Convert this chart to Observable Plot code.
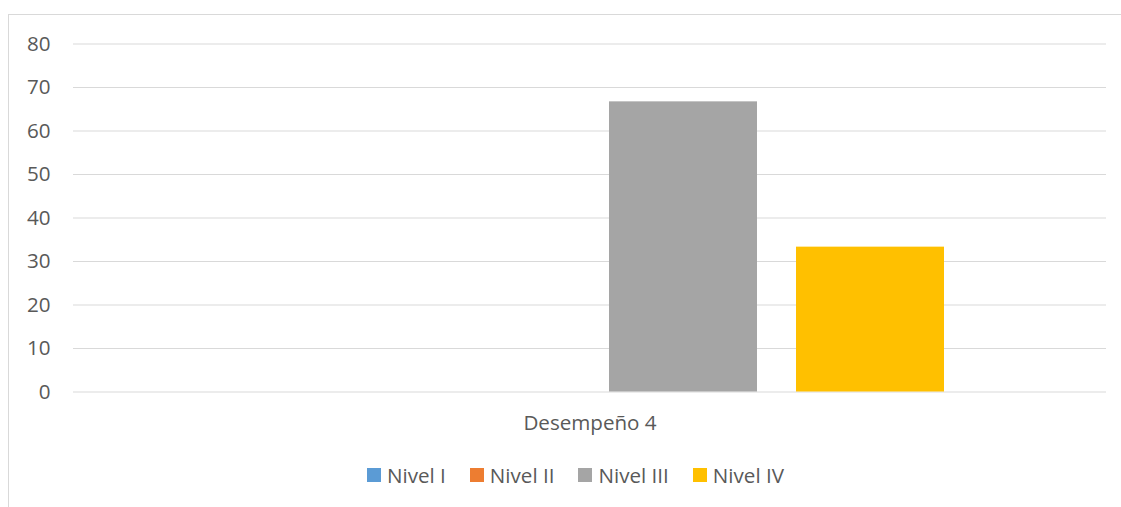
<!DOCTYPE html>
<html><head><meta charset="utf-8">
<script src="https://cdn.jsdelivr.net/npm/d3@7"></script>
<script src="https://cdn.jsdelivr.net/npm/@observablehq/plot@0.6"></script>
<style>
html,body{margin:0;padding:0;background:#fff;overflow:hidden;}
#wrap{position:relative;width:1121px;height:507px;overflow:hidden;font-family:"Open Sans",sans-serif;}
#frame{position:absolute;left:8px;top:14px;width:1300px;height:700px;border:1px solid #d9d9d9;box-sizing:border-box;}
#chart{position:absolute;left:0;top:0;}
#legend{position:absolute;left:367px;top:458px;}
.lg-swatch{margin-right:24px !important;}
.lg-swatch > svg{margin-right:6px !important;}
</style></head><body>
<div id="wrap"><div id="frame"></div><div id="chart"></div><div id="legend"></div></div>
<script>
const categories = ["Desempeño 4"];
const series = ["Nivel I", "Nivel II", "Nivel III", "Nivel IV"];
const values = [0, 0, 66.7, 33.3];
const colors = ["#5B9BD5", "#ED7D31", "#A5A5A5", "#FFC000"];
const yTicks = [0, 10, 20, 30, 40, 50, 60, 70, 80];

const data = series.map((s, i) => ({category: categories[0], serie: s, value: values[i]}));

const chart = Plot.plot({
  width: 1121,
  height: 450,
  marginTop: 43.5,
  marginBottom: 58.5,
  marginLeft: 73,
  marginRight: 15,
  style: {fontFamily: "'Open Sans', sans-serif", fontSize: "20.6px", color: "#595959", background: "transparent", overflow: "visible"},
  fx: {domain: categories, padding: 0, label: null},
  x: {domain: series, paddingInner: 0.2086, paddingOuter: 0.862, axis: null},
  y: {domain: [0, 80], label: null},
  color: {domain: series, range: colors},
  marks: [
    Plot.gridY(yTicks, {stroke: "#d9d9d9", strokeOpacity: 1, strokeWidth: 1.2}),
    Plot.barY(data, {fx: "category", x: "serie", y: "value", fill: "serie"}),
    Plot.axisY(yTicks, {tickSize: 0, tickPadding: 23, label: null, fill: "#595959"}),
    Plot.axisFx({anchor: "bottom", tickSize: 0, tickPadding: 23, label: null, fill: "#595959"})
  ]
});
document.getElementById("chart").appendChild(chart);

const legend = Plot.legend({
  color: {domain: series, range: colors},
  legend: "swatches",
  swatchSize: 14,
  className: "lg",
  style: {fontFamily: "'Open Sans', sans-serif", fontSize: "20.6px", color: "#595959"}
});
document.getElementById("legend").appendChild(legend);
</script>
</body></html>
